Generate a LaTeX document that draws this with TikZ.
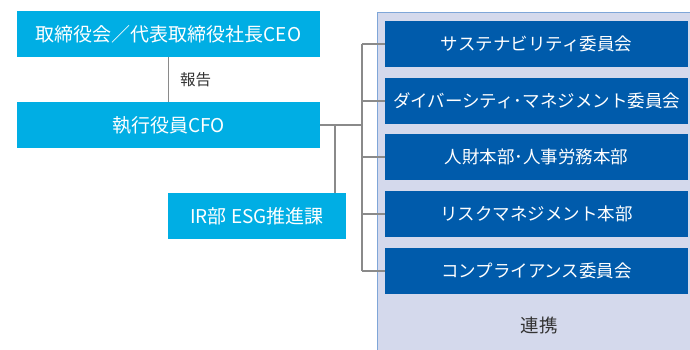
\documentclass[tikz,border=0pt]{standalone}
\usepackage{fontspec}
\setmainfont{Noto Sans CJK JP}
\definecolor{lb}{HTML}{00AEE4}
\definecolor{db}{HTML}{005BAB}
\definecolor{pf}{HTML}{D4D9EC}
\definecolor{pb}{HTML}{7FA6D8}
\definecolor{gr}{HTML}{8A8A8A}
\definecolor{tx}{HTML}{333333}
\begin{document}
\begin{tikzpicture}[x=1pt,y=-1pt,
  lbox/.style={fill=lb, text=white, inner sep=0pt, minimum height=46pt, font=\fontsize{19}{21}\selectfont},
  dbox/.style={fill=db, text=white, inner sep=0pt, minimum width=303pt, minimum height=46pt, font=\fontsize{17.5}{19}\selectfont},
  conn/.style={draw=gr, line width=1.3pt},
  lbl/.style={text=tx, inner sep=0pt}]
\useasboundingbox (0,0) rectangle (690,350);
\clip (0,0) rectangle (690,350);
\node[fill=pf, draw=pb, line width=1.2pt, minimum width=330pt, minimum height=350pt, anchor=north west, inner sep=0pt] (panel) at (377,12) {};
\node[lbox, minimum width=303pt] (ceo) at (168.5,34) {取締役会／代表取締役社長CEO};
\node[lbox, minimum width=303pt] (cfo) at (168.5,125) {執行役員CFO};
\node[lbox, minimum width=178pt] (ir) at (257,216) {IR部 ESG推進課};
\node[lbl, font=\fontsize{15.5}{17}\selectfont, anchor=west] (rep) at (180,80) {報告};
\node[dbox] (d1) at (536.5,44) {サステナビリティ委員会};
\node[dbox] (d2) at (536.5,101) {ダイバーシティ･マネジメント委員会};
\node[dbox] (d3) at (536.5,157) {人財本部･人事労務本部};
\node[dbox] (d4) at (536.5,214) {リスクマネジメント本部};
\node[dbox] (d5) at (536.5,271) {コンプライアンス委員会};
\node[lbl, font=\fontsize{18.5}{20}\selectfont] (link) at (539,325) {連携};
\coordinate (bm) at (362,125);
\coordinate (irj) at (335,125);
\draw[conn] (ceo.south) -- (cfo.north);
\draw[conn] (cfo.east) -- (bm);
\draw[conn] (irj) -- (irj |- ir.north);
\draw[conn] (d1.west -| bm) -- (d5.west -| bm);
\foreach \i in {1,...,5} {\draw[conn] (d\i.west -| bm) -- (d\i.west);}
\end{tikzpicture}
\end{document}
